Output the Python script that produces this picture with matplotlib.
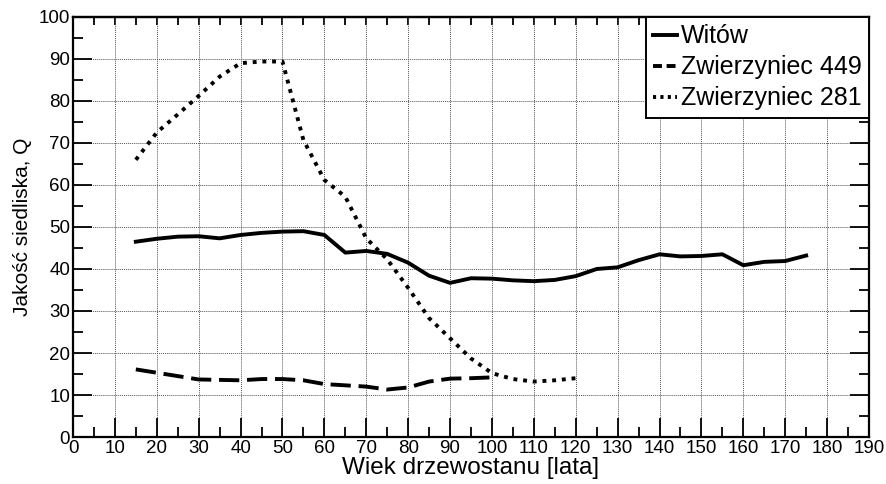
import matplotlib.pyplot as plt
from matplotlib.lines import Line2D
from matplotlib.ticker import MultipleLocator

plt.rcParams['font.family'] = ['Liberation Sans', 'DejaVu Sans']

# wiek drzewostanu [lata]
age_witow = [15, 20, 25, 30, 35, 40, 45, 50, 55, 60, 65, 70, 75, 80, 85, 90,
             95, 100, 105, 110, 115, 120, 125, 130, 135, 140, 145, 150, 155,
             160, 165, 170, 175]
q_witow = [46.5, 47.2, 47.7, 47.8, 47.3, 48.1, 48.6, 48.9, 49.0, 48.1, 43.9,
           44.3, 43.6, 41.5, 38.4, 36.7, 37.8, 37.7, 37.3, 37.1, 37.4, 38.3,
           40.0, 40.4, 42.1, 43.5, 43.0, 43.1, 43.5, 40.9, 41.7, 41.9, 43.2]

age_z449 = [15, 20, 25, 30, 35, 40, 45, 50, 55, 60, 65, 70, 75, 80, 85, 90,
            95, 100]
q_z449 = [16.1, 15.3, 14.5, 13.7, 13.6, 13.5, 13.8, 13.8, 13.5, 12.6, 12.3,
          12.0, 11.3, 11.8, 13.2, 13.9, 14.0, 14.2]

age_z281 = [15, 20, 25, 30, 35, 40, 45, 50, 55, 60, 65, 70, 75, 80, 85, 90,
            95, 100, 105, 110, 115, 120]
q_z281 = [66.0, 72.5, 76.8, 81.2, 85.8, 89.0, 89.4, 89.4, 70.7, 61.2, 57.2,
          47.3, 42.3, 35.5, 28.3, 23.5, 18.7, 15.2, 13.8, 13.2, 13.5, 14.0]

labels = ['Witów', 'Zwierzyniec 449', 'Zwierzyniec 281']

fig = plt.figure(figsize=(8.87, 4.84), dpi=100)
ax = fig.add_axes([0.0823, 0.0971, 0.8974, 0.8678])

ax.plot(age_witow, q_witow, color='black', lw=2.8, solid_joinstyle='round')
ax.plot(age_z449, q_z449, color='black', lw=2.8, linestyle=(0, (5.2, 2.0)))
ax.plot(age_z281, q_z281, color='black', lw=2.8, linestyle=(0, (1, 1.5)))

ax.set_xlim(0, 190)
ax.set_ylim(0, 100)
ax.xaxis.set_major_locator(MultipleLocator(10))
ax.xaxis.set_minor_locator(MultipleLocator(5))
ax.yaxis.set_major_locator(MultipleLocator(10))
ax.yaxis.set_minor_locator(MultipleLocator(5))

ax.grid(True, which='major', color='#555555', linestyle=(0, (1, 1)), lw=0.7)
ax.tick_params(which='major', direction='in', length=14, width=1.3,
               top=False, right=True, labelsize=13.5, pad=2)
ax.tick_params(which='minor', direction='in', length=7, width=1.3,
               top=False, right=True)

# krotkie znaczniki u gory
top = ax.secondary_xaxis('top')
top.xaxis.set_major_locator(MultipleLocator(10))
top.xaxis.set_minor_locator(MultipleLocator(5))
top.tick_params(which='both', direction='in', length=5.5, width=1.3,
                labeltop=False)

for s in list(ax.spines.values()) + list(top.spines.values()):
    s.set_linewidth(1.6)

ax.set_xlabel('Wiek drzewostanu [lata]', fontsize=17.5, labelpad=0)
ax.set_ylabel('Jakość siedliska, Q', fontsize=15, labelpad=5)

# legenda z krotszym wzorem kresek
handles = [Line2D([], [], color='black', lw=2.8),
           Line2D([], [], color='black', lw=2.8, linestyle=(0, (2.3, 1.2))),
           Line2D([], [], color='black', lw=2.8, linestyle=(0, (0.8, 1.1)))]
leg = ax.legend(handles, labels, loc='upper right', fontsize=18,
                handlelength=0.95, handletextpad=0.15, borderpad=0.3,
                labelspacing=0.28, borderaxespad=0, fancybox=False,
                framealpha=1, edgecolor='black')
leg.get_frame().set_linewidth(1.4)

fig.savefig('out.png', dpi=100)
